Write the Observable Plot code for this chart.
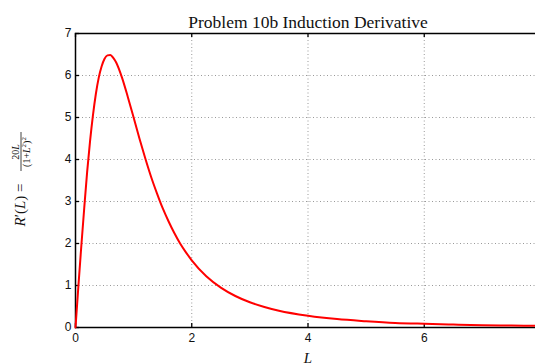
<!DOCTYPE html>
<html>
<head>
<meta charset="utf-8">
<script src="https://cdn.jsdelivr.net/npm/d3@7"></script>
<script src="https://cdn.jsdelivr.net/npm/@observablehq/plot@0.6"></script>
<style>
  html, body { margin: 0; padding: 0; background: #fff; overflow: hidden; width: 535px; height: 364px; }
  #chart svg { display: block; max-width: none !important; }
</style>
</head>
<body>
<div id="chart"></div>
<script>
// Values
const titleText = "Problem 10b Induction Derivative";
const xLabel = "L";
const xTicks = [0, 2, 4, 6];
const yTicks = [0, 1, 2, 3, 4, 5, 6, 7];
const Lvals = [0, 0.05, 0.1, 0.15, 0.2, 0.25, 0.3, 0.35, 0.4, 0.45, 0.5, 0.55, 0.6, 0.65, 0.7, 0.8, 0.9, 1.0, 1.1, 1.2, 1.3, 1.4, 1.5, 1.6, 1.7, 1.8, 1.9, 2.0, 2.25, 2.5, 2.75, 3.0, 3.25, 3.5, 4.0, 4.5, 5.0, 5.5, 6.0, 6.5, 7.0, 7.5, 8.0];
const Rvals = [0, 0.99, 1.94, 2.84, 3.70, 4.43, 5.05, 5.56, 5.95, 6.22, 6.40, 6.48, 6.49, 6.42, 6.31, 5.95, 5.49, 5.00, 4.50, 4.03, 3.59, 3.20, 2.84, 2.53, 2.25, 2.00, 1.79, 1.60, 1.22, 0.95, 0.75, 0.60, 0.49, 0.40, 0.28, 0.20, 0.15, 0.11, 0.088, 0.07, 0.056, 0.046, 0.038];

const data = Lvals.map((L, i) => ({L, R: Rvals[i]}));

const W = 545, H = 364, mT = 33, mB = 37, mL = 75, mR = 5;
const frameH = H - mT - mB;
const frameW = W - mL - mR;
const grid = {stroke: "#999", strokeOpacity: 1, strokeWidth: 1, strokeDasharray: "1,2.5"};
const sans = "Liberation Sans, Arial, sans-serif";
const serif = "Liberation Serif, Times New Roman, serif";

const chart = Plot.plot({
  width: W,
  height: H,
  marginTop: mT,
  marginBottom: mB,
  marginLeft: mL,
  marginRight: mR,
  style: {background: "#fff", overflow: "visible", maxWidth: "none"},
  x: {domain: [0, 8]},
  y: {domain: [0, 7]},
  marks: [
    Plot.ruleY(yTicks.filter(d => d > 0 && d < 7), {y: d => d, ...grid}),
    Plot.ruleX(xTicks.filter(d => d > 0), {x: d => d, ...grid}),
    Plot.axisX(xTicks, {tickSize: 0, tickPadding: 6, label: null, fontSize: 12, fontFamily: sans, fill: "#111"}),
    Plot.axisY(yTicks, {tickSize: 0, tickPadding: 4, label: null, fontSize: 12, fontFamily: sans, fill: "#111"}),
    Plot.tickX(xTicks, {x: d => d, insetTop: frameH - 4, stroke: "#000", strokeWidth: 1.3}),
    Plot.tickX(xTicks, {x: d => d, insetBottom: frameH - 4, stroke: "#000", strokeWidth: 1.3}),
    Plot.tickY(yTicks, {y: d => d, insetRight: frameW - 4, stroke: "#000", strokeWidth: 1.3}),
    Plot.frame({stroke: "#000", strokeWidth: 1.5}),
    Plot.line(data, {x: "L", y: "R", stroke: "#ff0000", strokeWidth: 2, curve: "monotone-x"}),
    Plot.text([titleText], {frameAnchor: "top", lineAnchor: "bottom", dy: -6, fontSize: 17.5, fontFamily: serif, fill: "#111"}),
    Plot.text([xLabel], {frameAnchor: "bottom", lineAnchor: "bottom", dy: 35, fontSize: 15, fontStyle: "italic", fontFamily: serif, fill: "#111"})
  ]
});

document.getElementById("chart").appendChild(chart);

// Rotated y-axis label: R′(L) = 20L / (1+L²)²
const svg = d3.select(chart);
const g = svg.append("g").attr("fill", "#111").attr("font-family", serif);
g.append("text")
  .attr("transform", "translate(25,205) rotate(-90)")
  .attr("text-anchor", "middle")
  .attr("font-size", 15)
  .html('<tspan font-style="italic">R</tspan>′(<tspan font-style="italic">L</tspan>) =');
g.append("text")
  .attr("transform", "translate(18.5,152) rotate(-90)")
  .attr("text-anchor", "middle")
  .attr("font-size", 10)
  .html('20<tspan font-style="italic">L</tspan>');
g.append("text")
  .attr("transform", "translate(30,152) rotate(-90)")
  .attr("text-anchor", "middle")
  .attr("font-size", 10)
  .html('(1+<tspan font-style="italic">L</tspan><tspan baseline-shift="super" font-size="7">2</tspan>)<tspan baseline-shift="super" font-size="7">2</tspan>');
g.append("line")
  .attr("x1", 21).attr("x2", 21)
  .attr("y1", 132).attr("y2", 171)
  .attr("stroke", "#111").attr("stroke-width", 0.8);
</script>
</body>
</html>
